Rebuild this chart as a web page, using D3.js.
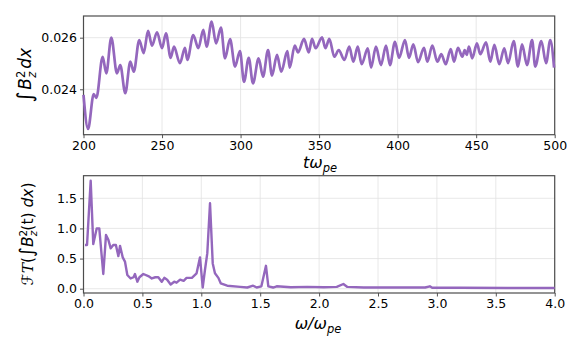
<!DOCTYPE html>
<body style="overflow: hidden; padding: 0; margin: 0; background: #fff;">
<script src="https://cdn.jsdelivr.net/npm/d3@7"></script>
<script>

    // top panel: time series (turning points)
    const timeT = [200, 202.9, 206.5, 208.2, 212.2, 214.5, 217.7, 221.3, 223.4, 226.6, 229.8, 232, 235.5, 238.3, 241.1, 243.6, 246.8, 250,
      252.5, 255.5, 257.6, 261.4, 264.6, 266.1, 269.9, 273.1, 276.3, 278.4, 281.6, 284.4, 287.5, 290.1, 293.3, 296.5, 299.6,
      302.2, 305.2, 307.9, 311.5, 314.3, 317.5, 320, 323.2, 325.9, 329.8, 331.3, 334.5, 336.6, 340.4, 343.4, 345.5, 347.8,
      351.9, 354, 356.5, 359.7, 362.5, 366.1, 369.2, 371.8, 374.6, 377.1, 381, 383.1, 386.2, 389.4, 392.6, 395.1, 398.3,
      400.9, 404.7, 407.2, 410, 413, 416.8, 418.9, 422.1, 425.3, 427.8, 430.6, 433.8, 435.9, 438.4, 441.2, 442.7, 444, 445.4, 447.5,
      450.5, 452.6, 456.3, 459, 461.6, 464.7, 467.9, 470.3, 473.9, 476.6, 479.2, 482.4, 485.6, 487.6, 491.5, 494.5, 497.2, 499.6];
    const energy = [0.02378, 0.02246, 0.02381, 0.02367, 0.02526, 0.02462, 0.02600, 0.02462, 0.02494, 0.02385, 0.02507, 0.02468, 0.02591, 0.02540, 0.02626, 0.02569, 0.02621, 0.02559,
      0.02617, 0.02522, 0.02565, 0.02501, 0.02561, 0.02514, 0.02610, 0.02559, 0.02630, 0.02565, 0.02662, 0.02578, 0.02639, 0.02520, 0.02594, 0.02488, 0.02548,
      0.02429, 0.02522, 0.02423, 0.02520, 0.02449, 0.02552, 0.02453, 0.02533, 0.02468, 0.02548, 0.02484, 0.02569, 0.02543, 0.02595, 0.02543, 0.02595, 0.02559,
      0.02601, 0.02559, 0.02595, 0.02526, 0.02552, 0.02514, 0.02565, 0.02507, 0.02565, 0.02497, 0.02559, 0.02484, 0.02565, 0.02494, 0.02569, 0.02494, 0.02584,
      0.02522, 0.02591, 0.02522, 0.02574, 0.02505, 0.02561, 0.02507, 0.02569, 0.02507, 0.02536, 0.02497, 0.02556, 0.02507, 0.02561, 0.02526, 0.02552, 0.02533, 0.02565, 0.02520,
      0.02578, 0.02536, 0.02582, 0.02507, 0.02572, 0.02497, 0.02559, 0.02501, 0.02587, 0.02488, 0.02574, 0.02494, 0.02591, 0.02488, 0.02587, 0.02501, 0.02591, 0.02484];

    // bottom panel: spectrum
    const freq = [0.013, 0.03, 0.061, 0.083, 0.112, 0.134, 0.168, 0.191, 0.211, 0.231, 0.253, 0.275, 0.296, 0.31, 0.333, 0.352, 0.372, 0.40, 0.425, 0.437, 0.457, 0.475,
      0.508, 0.55, 0.58, 0.61, 0.635, 0.664, 0.686, 0.71, 0.74, 0.77, 0.79, 0.82, 0.85, 0.875, 0.92, 0.96, 0.989, 1.012, 1.031, 1.051, 1.074, 1.097, 1.116, 1.145, 1.165,
      1.22, 1.33, 1.39, 1.44, 1.47, 1.51, 1.549, 1.569, 1.61, 1.64, 1.76, 1.90, 2.04, 2.15, 2.206, 2.24, 2.38, 2.6, 2.9, 2.94, 2.96, 3.2, 3.6, 4.0];
    const spectrum = [0.725, 0.725, 1.79, 0.74, 1.0, 1.0, 0.244, 0.89, 0.81, 0.67, 0.725, 0.725, 0.54, 0.71, 0.52, 0.45, 0.227, 0.17, 0.19, 0.244, 0.116, 0.19,
      0.244, 0.21, 0.17, 0.19, 0.19, 0.116, 0.18, 0.15, 0.07, 0.116, 0.10, 0.15, 0.13, 0.18, 0.18, 0.255, 0.52, 0.02, 0.31, 0.59, 1.416, 0.42, 0.255, 0.18, 0.09,
      0.05, 0.03, 0.02, 0.05, 0.02, 0.04, 0.38, 0.04, 0.02, 0.04, 0.025, 0.03, 0.025, 0.03, 0.078, 0.03, 0.02, 0.02, 0.02, 0.04, 0.015, 0.015, 0.012, 0.012];

    const topTicksX = [200, 250, 300, 350, 400, 450, 500];
    const topTicksY = [0.024, 0.026];
    const botTicksX = [0, 0.5, 1.0, 1.5, 2.0, 2.5, 3.0, 3.5, 4.0];
    const botTicksY = [0, 0.5, 1.0, 1.5];

    const purple = "#9467bd";
    const font = "DejaVu Sans";

    const svg = d3.select("body").append("svg")
      .attr("width", 581)
      .attr("height", 349)
      .style("font-family", font);

    const left = 83.5, right = 554.7;

    function panel(top, bottom, xDom, yDom, xt, yt, xFmt, yFmt) {
      const x = d3.scaleLinear().domain(xDom).range([left, right]);
      const y = d3.scaleLinear().domain(yDom).range([bottom, top]);
      const g = svg.append("g");

      g.selectAll(".gx").data(xt).enter().append("line")
        .attr("x1", d => x(d)).attr("x2", d => x(d))
        .attr("y1", top).attr("y2", bottom)
        .attr("stroke", "#e2e2e2").attr("stroke-width", 0.8);
      g.selectAll(".gy").data(yt).enter().append("line")
        .attr("x1", left).attr("x2", right)
        .attr("y1", d => y(d)).attr("y2", d => y(d))
        .attr("stroke", "#e2e2e2").attr("stroke-width", 0.8);

      const xa = g.append("g").attr("transform", `translate(0,${bottom})`)
        .call(d3.axisBottom(x).tickValues(xt).tickFormat(xFmt).tickSize(3.5).tickPadding(3));
      const ya = g.append("g").attr("transform", `translate(${left},0)`)
        .call(d3.axisLeft(y).tickValues(yt).tickFormat(yFmt).tickSize(3.5).tickPadding(3));
      [xa, ya].forEach(a => {
        a.select(".domain").remove();
        a.selectAll("line").attr("stroke", "#555");
        a.selectAll("text").attr("font-size", 12.5).attr("font-family", font).attr("fill", "#000");
      });

      g.append("rect")
        .attr("x", left).attr("y", top)
        .attr("width", right - left).attr("height", bottom - top)
        .attr("fill", "none").attr("stroke", "#4d4d4d").attr("stroke-width", 1.2);
      return {x, y, g};
    }

    // top panel
    const p1 = panel(16, 134.7, [200, 500], [0.02224, 0.02684], topTicksX, topTicksY, d3.format("d"), d3.format(".3f"));
    p1.g.append("path")
      .datum(d3.zip(timeT, energy))
      .attr("fill", "none")
      .attr("stroke", purple)
      .attr("stroke-width", 2.7)
      .attr("stroke-linejoin", "round")
      .attr("d", d3.line().x(d => p1.x(d[0])).y(d => p1.y(d[1])).curve(d3.curveMonotoneX));

    // bottom panel
    const p2 = panel(175.7, 293, [0, 4], [-0.071, 1.874], botTicksX, botTicksY, d3.format(".1f"), d3.format(".1f"));
    p2.g.append("path")
      .datum(d3.zip(freq, spectrum))
      .attr("fill", "none")
      .attr("stroke", purple)
      .attr("stroke-width", 2.4)
      .attr("stroke-linejoin", "round")
      .attr("d", d3.line().x(d => p2.x(d[0])).y(d => p2.y(d[1])));

    // axis labels
    const xl1 = svg.append("text").attr("x", 320).attr("y", 168)
      .attr("text-anchor", "middle").attr("font-size", 16).attr("font-style", "italic");
    xl1.append("tspan").text("tω");
    xl1.append("tspan").attr("dy", 3.5).attr("font-size", 11.5).text("pe");

    const xl2 = svg.append("text").attr("x", 318).attr("y", 329)
      .attr("text-anchor", "middle").attr("font-size", 16).attr("font-style", "italic");
    xl2.append("tspan").text("ω/ω");
    xl2.append("tspan").attr("dy", 3.5).attr("font-size", 11.5).text("pe");

    const yl1 = svg.append("text").attr("transform", "translate(31,75) rotate(-90)")
      .attr("text-anchor", "middle").attr("font-size", 17);
    yl1.append("tspan").attr("font-size", 21).attr("dy", 1).text("∫");
    yl1.append("tspan").attr("dy", -1).attr("dx", 1.5).attr("font-style", "italic").text("B");
    yl1.append("tspan").attr("dy", -6.5).attr("font-size", 11.5).text("2");
    yl1.append("tspan").attr("dx", -7).attr("dy", 11).attr("font-size", 11.5).attr("font-style", "italic").text("z");
    yl1.append("tspan").attr("dy", -4.5).attr("dx", 3).attr("font-style", "italic").text("dx");

    const yl2 = svg.append("text").attr("transform", "translate(33,234) rotate(-90)")
      .attr("text-anchor", "middle").attr("font-size", 15.5);
    yl2.append("tspan").attr("font-style", "italic").text("ℱ");
    yl2.append("tspan").attr("font-style", "italic").attr("font-family", "DejaVu Serif").text("T");
    yl2.append("tspan").text("(");
    yl2.append("tspan").attr("font-size", 19).text("∫");
    yl2.append("tspan").attr("font-style", "italic").text("B");
    yl2.append("tspan").attr("dy", -6).attr("font-size", 10.5).text("2");
    yl2.append("tspan").attr("dx", -6.5).attr("dy", 10).attr("font-size", 10.5).attr("font-style", "italic").text("z");
    yl2.append("tspan").attr("dy", -4).text("(t)");
    yl2.append("tspan").attr("font-style", "italic").text(" dx");
    yl2.append("tspan").text(")");
</script>
</body>
